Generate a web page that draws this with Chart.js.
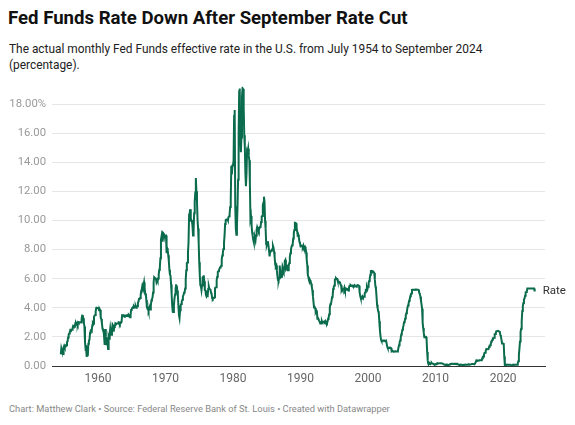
<!DOCTYPE html>
<html>
<head>
<meta charset="utf-8">
<script src="https://cdn.jsdelivr.net/npm/chart.js@4"></script>
<style>
  body { margin: 0; background: #fff; font-family: Roboto, "Noto Sans", sans-serif; }
  #wrap { position: relative; width: 575px; height: 425px; overflow: hidden; }
  h1 { position: absolute; left: 8px; top: 7px; margin: 0; font-size: 18.6px; font-weight: 700; color: #111; }
  .sub { position: absolute; left: 9px; top: 42px; width: 540px; margin: 0; font-size: 11.9px; line-height: 15.5px; color: #222; }
  .foot { position: absolute; left: 9px; top: 403px; margin: 0; font-size: 9.3px; color: #888; }
  canvas { position: absolute; left: 0; top: 74px; }
</style>
</head>
<body>
<div id="wrap">
  <h1>Fed Funds Rate Down After September Rate Cut</h1>
  <p class="sub">The actual monthly Fed Funds effective rate in the U.S. from July 1954 to September 2024<br>(percentage).</p>
  <canvas id="chart" width="575" height="316"></canvas>
  <p class="foot">Chart: Matthew Clark • Source: Federal Reserve Bank of St. Louis • Created with Datawrapper</p>
</div>
<script>
// monthly effective rate, July 1954 onward
const rates1950s = [
  0.80, 1.22, 1.07, 0.85, 0.83, 1.28,
  1.39, 1.29, 1.35, 1.43, 1.43, 1.64, 1.68, 1.96, 2.18, 2.24, 2.35, 2.48,
  2.45, 2.50, 2.50, 2.62, 2.75, 2.71, 2.75, 2.73, 2.95, 2.96, 2.88, 2.94,
  2.84, 3.00, 2.96, 3.00, 3.00, 3.00, 2.99, 3.24, 3.47, 3.50, 3.28, 2.98,
  2.72, 1.67, 1.20, 1.26, 0.63, 0.93, 0.68, 1.53, 1.76, 1.80, 2.27, 2.42,
  2.48, 2.43, 2.80, 2.96, 2.90, 3.39, 3.47, 3.50, 3.76, 3.98, 4.00, 3.99
];
const rates1960s = [
  3.99, 3.97, 3.84, 3.92, 3.85, 3.32, 3.23, 2.98, 2.60, 2.47, 2.44, 1.98,
  1.45, 2.54, 2.02, 1.49, 1.98, 1.73, 1.17, 2.00, 1.88, 2.26, 2.61, 2.33,
  2.15, 2.37, 2.85, 2.78, 2.36, 2.68, 2.71, 2.93, 2.90, 2.90, 2.94, 2.93,
  2.92, 3.00, 2.98, 2.90, 3.00, 2.99, 3.02, 3.49, 3.48, 3.50, 3.48, 3.38,
  3.48, 3.48, 3.43, 3.47, 3.50, 3.50, 3.42, 3.50, 3.45, 3.36, 3.52, 3.85,
  3.90, 3.98, 4.04, 4.09, 4.10, 4.04, 4.09, 4.12, 4.01, 4.08, 4.10, 4.32,
  4.42, 4.60, 4.65, 4.67, 4.90, 5.17, 5.30, 5.53, 5.40, 5.53, 5.76, 5.40,
  4.94, 5.00, 4.53, 4.05, 3.94, 3.98, 3.79, 3.90, 3.99, 3.88, 4.13, 4.51,
  4.60, 4.71, 5.05, 5.76, 6.11, 6.07, 6.02, 6.03, 5.78, 5.91, 5.82, 6.02,
  6.30, 6.61, 6.79, 7.41, 8.67, 8.90, 8.61, 9.19, 9.15, 9.00, 8.85, 8.97
];
const rates1970s = [
  8.98, 8.98, 7.76, 8.10, 7.95, 7.61, 7.21, 6.61, 6.29, 6.20, 5.60, 4.90,
  4.14, 3.72, 3.71, 4.16, 4.63, 4.91, 5.31, 5.56, 5.55, 5.20, 4.91, 4.14,
  3.50, 3.29, 3.83, 4.17, 4.27, 4.46, 4.55, 4.80, 4.87, 5.04, 5.06, 5.33,
  5.94, 6.58, 7.09, 7.12, 7.84, 8.49, 10.40, 10.50, 10.78, 10.01, 10.03, 9.95,
  9.65, 8.97, 9.35, 10.51, 11.31, 11.93, 12.92, 12.01, 11.34, 10.06, 9.45, 8.53,
  7.13, 6.24, 5.54, 5.49, 5.22, 5.55, 6.10, 6.14, 6.24, 5.82, 5.22, 5.20,
  4.87, 4.77, 4.84, 4.82, 5.29, 5.48, 5.31, 5.29, 5.25, 5.03, 4.95, 4.65,
  4.61, 4.68, 4.69, 4.73, 5.35, 5.39, 5.42, 5.90, 6.14, 6.47, 6.51, 6.56,
  6.70, 6.78, 6.79, 6.89, 7.36, 7.60, 7.81, 8.04, 8.45, 8.96, 9.76, 10.03,
  10.07, 10.06, 10.09, 10.01, 10.24, 10.29, 10.47, 10.94, 11.43, 13.77, 13.18, 13.78
];
const rates1980s = [
  13.82, 14.13, 17.19, 17.61, 10.98, 9.47, 9.03, 9.61, 10.87, 12.81, 15.85, 18.90,
  19.08, 15.93, 14.70, 15.72, 18.52, 19.10, 19.04, 17.82, 15.87, 15.08, 13.31, 12.37,
  13.22, 14.78, 14.68, 14.94, 14.45, 14.15, 12.59, 10.12, 10.31, 9.71, 9.20, 8.95,
  8.68, 8.51, 8.77, 8.80, 8.63, 8.98, 9.37, 9.56, 9.45, 9.48, 9.34, 9.47,
  9.56, 9.59, 9.91, 10.29, 10.32, 11.06, 11.23, 11.64, 11.30, 9.99, 9.43, 8.38,
  8.35, 8.50, 8.58, 8.27, 7.97, 7.53, 7.88, 7.90, 7.92, 7.99, 8.05, 8.27,
  8.14, 7.86, 7.48, 6.99, 6.85, 6.92, 6.56, 6.17, 5.89, 5.85, 6.04, 6.91,
  6.43, 6.10, 6.13, 6.37, 6.85, 6.73, 6.58, 6.73, 7.22, 7.29, 6.69, 6.77,
  6.83, 6.58, 6.58, 6.87, 7.09, 7.51, 7.75, 8.01, 8.19, 8.30, 8.35, 8.76,
  9.12, 9.36, 9.85, 9.84, 9.81, 9.53, 9.24, 8.99, 9.02, 8.84, 8.55, 8.45
];
const rates1990s = [
  8.23, 8.24, 8.28, 8.26, 8.18, 8.29, 8.15, 8.13, 8.20, 8.11, 7.81, 7.31,
  6.91, 6.25, 6.12, 5.91, 5.78, 5.90, 5.82, 5.66, 5.45, 5.21, 4.81, 4.43,
  4.03, 4.06, 3.98, 3.73, 3.82, 3.76, 3.25, 3.30, 3.22, 3.10, 3.09, 2.92,
  3.02, 3.03, 3.07, 2.96, 3.00, 3.04, 3.06, 3.03, 3.09, 2.99, 3.02, 2.96,
  3.05, 3.25, 3.34, 3.56, 4.01, 4.25, 4.26, 4.47, 4.73, 4.76, 5.29, 5.45,
  5.53, 5.92, 5.98, 6.05, 6.01, 6.00, 5.85, 5.74, 5.80, 5.76, 5.80, 5.60,
  5.56, 5.22, 5.31, 5.22, 5.24, 5.27, 5.40, 5.22, 5.30, 5.24, 5.31, 5.29,
  5.25, 5.19, 5.39, 5.51, 5.50, 5.56, 5.52, 5.54, 5.54, 5.50, 5.52, 5.50,
  5.56, 5.51, 5.49, 5.45, 5.49, 5.56, 5.54, 5.55, 5.51, 5.07, 4.83, 4.68,
  4.63, 4.76, 4.81, 4.74, 4.74, 4.76, 4.99, 5.07, 5.22, 5.20, 5.42, 5.30
];
const rates2000s = [
  5.45, 5.73, 5.85, 6.02, 6.27, 6.53, 6.54, 6.50, 6.52, 6.51, 6.51, 6.40,
  5.98, 5.49, 5.31, 4.80, 4.21, 3.97, 3.77, 3.65, 3.07, 2.49, 2.09, 1.82,
  1.73, 1.74, 1.73, 1.75, 1.75, 1.75, 1.73, 1.74, 1.75, 1.75, 1.34, 1.24,
  1.24, 1.26, 1.25, 1.26, 1.26, 1.22, 1.01, 1.03, 1.01, 1.01, 1.00, 0.98,
  1.00, 1.01, 1.00, 1.00, 1.00, 1.03, 1.26, 1.43, 1.61, 1.76, 1.93, 2.16,
  2.28, 2.50, 2.63, 2.79, 3.00, 3.04, 3.26, 3.50, 3.62, 3.78, 4.00, 4.16,
  4.29, 4.49, 4.59, 4.79, 4.94, 4.99, 5.24, 5.25, 5.25, 5.25, 5.25, 5.24,
  5.25, 5.26, 5.26, 5.25, 5.25, 5.25, 5.26, 5.02, 4.94, 4.76, 4.49, 4.24,
  3.94, 2.98, 2.61, 2.28, 1.98, 2.00, 2.01, 2.00, 1.81, 0.97, 0.39, 0.16,
  0.15, 0.22, 0.18, 0.15, 0.18, 0.21, 0.16, 0.16, 0.15, 0.12, 0.12, 0.12
];
const rates2010s = [
  0.11, 0.13, 0.16, 0.20, 0.20, 0.18, 0.18, 0.19, 0.19, 0.19, 0.19, 0.18,
  0.17, 0.16, 0.14, 0.10, 0.09, 0.09, 0.07, 0.10, 0.08, 0.07, 0.08, 0.07,
  0.08, 0.10, 0.13, 0.14, 0.16, 0.16, 0.16, 0.13, 0.14, 0.16, 0.16, 0.16,
  0.14, 0.15, 0.14, 0.15, 0.11, 0.09, 0.09, 0.08, 0.08, 0.09, 0.08, 0.09,
  0.07, 0.07, 0.08, 0.09, 0.09, 0.10, 0.09, 0.09, 0.09, 0.09, 0.09, 0.12,
  0.11, 0.11, 0.11, 0.12, 0.12, 0.13, 0.13, 0.14, 0.14, 0.12, 0.12, 0.24,
  0.34, 0.38, 0.36, 0.37, 0.37, 0.38, 0.39, 0.40, 0.40, 0.40, 0.41, 0.54,
  0.65, 0.66, 0.79, 0.90, 0.91, 1.04, 1.15, 1.16, 1.15, 1.15, 1.16, 1.30,
  1.41, 1.42, 1.51, 1.69, 1.70, 1.82, 1.91, 1.91, 1.95, 2.19, 2.20, 2.27,
  2.40, 2.40, 2.41, 2.42, 2.39, 2.38, 2.40, 2.13, 2.04, 1.83, 1.55, 1.55
];
const rates2020s = [
  1.55, 1.58, 0.65, 0.05, 0.05, 0.08, 0.09, 0.10, 0.09, 0.09, 0.09, 0.09,
  0.09, 0.08, 0.07, 0.07, 0.06, 0.08, 0.10, 0.09, 0.08, 0.08, 0.08, 0.08,
  0.08, 0.08, 0.20, 0.33, 0.77, 1.21, 1.68, 2.33, 2.56, 3.08, 3.78, 4.10,
  4.33, 4.57, 4.65, 4.83, 5.06, 5.08, 5.12, 5.33, 5.33, 5.33, 5.33, 5.33,
  5.33, 5.33, 5.33, 5.33, 5.33, 5.33, 5.33, 5.33, 5.13
];
const yTicks = [0, 2, 4, 6, 8, 10, 12, 14, 16, 18];
const xTicks = [1960, 1970, 1980, 1990, 2000, 2010, 2020];
const seriesLabel = "Rate";

const rates = [].concat(rates1950s, rates1960s, rates1970s, rates1980s,
  rates1990s, rates2000s, rates2010s, rates2020s);
// first value is July 1954 -> month index 6
const points = rates.map((v, i) => ({ x: 1954 + (6 + i) / 12, y: v }));

const endLabel = {
  id: "endLabel",
  afterDatasetsDraw(chart) {
    const meta = chart.getDatasetMeta(0);
    const last = meta.data[meta.data.length - 1];
    const ctx = chart.ctx;
    ctx.save();
    ctx.font = "11.5px Roboto";
    ctx.fillStyle = "#333";
    ctx.textBaseline = "middle";
    ctx.fillText(seriesLabel, last.x + 8, last.y);
    ctx.restore();
  }
};

new Chart(document.getElementById("chart"), {
  type: "line",
  data: {
    datasets: [{
      label: seriesLabel,
      data: points,
      borderColor: "#0b6b4d",
      borderWidth: 2,
      pointRadius: 0,
      tension: 0
    }]
  },
  options: {
    responsive: false,
    animation: false,
    layout: { padding: { top: 0, right: 30, left: 0, bottom: 0 } },
    plugins: { legend: { display: false }, tooltip: { enabled: false } },
    scales: {
      x: {
        type: "linear",
        min: 1953.2,
        max: 2026.2,
        afterBuildTicks: (s) => { s.ticks = xTicks.map((v) => ({ value: v })); },
        afterFit: (s) => { s.height = 24; },
        grid: { display: false, drawTicks: false },
        border: { display: true, color: "#333", width: 1 },
        ticks: { color: "#666", font: { family: "Roboto", size: 12 }, padding: 6, maxRotation: 0,
          callback: (v) => String(v) }
      },
      y: {
        min: 0,
        max: 19.2,
        afterBuildTicks: (s) => { s.ticks = yTicks.map((v) => ({ value: v })); },
        afterFit: (s) => { s.width = 52; },
        grid: { color: "#e6e6e6", drawTicks: false },
        border: { display: false },
        ticks: { color: "#999", font: { family: "Roboto", size: 11.3 }, padding: 6,
          callback: (v) => v === 18 ? v.toFixed(2) + "%" : v.toFixed(2) }
      }
    }
  },
  plugins: [endLabel]
});
</script>
</body>
</html>
